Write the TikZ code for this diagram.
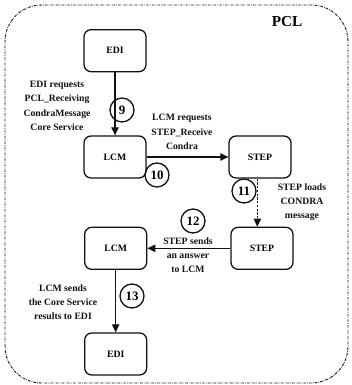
\documentclass[tikz,border=0pt]{standalone}
\usepackage{fontspec}
\setmainfont{Liberation Serif}
\usetikzlibrary{positioning,arrows.meta}
\definecolor{ink}{HTML}{111111}
\tikzset{
  box/.style   ={draw=ink, line width=1.1pt, rounded corners=6pt, minimum width=18.6mm, minimum height=12.6mm, font=\bfseries\fontsize{8.3}{10}\selectfont},
  num/.style   ={draw=ink, line width=1.1pt, circle, minimum size=7.2mm, inner sep=0pt, font=\bfseries\fontsize{11}{12}\selectfont},
  note/.style  ={align=center, font=\bfseries\fontsize{8.3}{12.2}\selectfont, text=ink},
  ln/.style    ={draw=ink, line width=1.1pt, -{Triangle[length=2.4mm,width=2.2mm]}},
  lnd/.style   ={draw=ink, line width=.9pt, dash pattern=on 2pt off 1.2pt, -{Triangle[length=2.4mm,width=2.2mm]}},
  bnd/.style   ={draw=ink, line width=.8pt, dash pattern=on 2.2pt off 1pt on .6pt off 1pt, rounded corners=1.1cm},
}
\begin{document}
\begin{tikzpicture}
    \useasboundingbox (0,0) rectangle (10.53,11.55);
    \draw[bnd] (0.15,0.06) rectangle (10.44,11.4);
    \node[font=\bfseries\fontsize{13}{14}\selectfont] (pcl) at (8.61,10.89) {PCL};

    \node[box] (edia) at (3.45,10.03) {EDI};
    \node[box] (lcma) at (3.45,6.84) {LCM};
    \node[box] (stepa) at (7.8,6.84) {STEP};
    \node[box] (stepb) at (7.86,4.1) {STEP};
    \node[box] (lcmb) at (3.47,4.1) {LCM};
    \node[box] (edib) at (3.47,0.93) {EDI};

    \node[num] (n9)  at (3.66,8.25) {9};
    \node[num] (n10) at (4.71,6.3)  {10};
    \node[num] (n11) at (7.32,5.82) {11};
    \node[num] (n12) at (5.79,4.92) {12};
    \node[num] (n13) at (3.96,2.67) {13};

    \node[note] (t9)  at (1.71,8.37) {EDI requests\\ PCL\_Receiving\\ CondraMessage\\ Core Service};
    \node[note] (t10) at (5.46,7.59) {LCM requests\\ STEP\_Receive\\ Condra};
    \node[note] (t11) at (9.06,5.49) {STEP loads\\ CONDRA\\ message};
    \node[note] (t12) at (5.64,3.9)  {STEP sends\\ an answer\\ to LCM};
    \node[note] (t13) at (1.89,2.49) {LCM sends\\ the Core Service\\ results to EDI};

    \draw[ln]  (edia) -- (lcma);
    \draw[ln]  (lcma) -- (stepa);
    \draw[lnd] (stepa.south) ++(-0.08,0) coordinate (s1) -- (s1 |- stepb.north);
    \draw[ln]  (stepb) -- (lcmb);
    \draw[ln]  (lcmb) -- (edib);
\end{tikzpicture}
\end{document}
